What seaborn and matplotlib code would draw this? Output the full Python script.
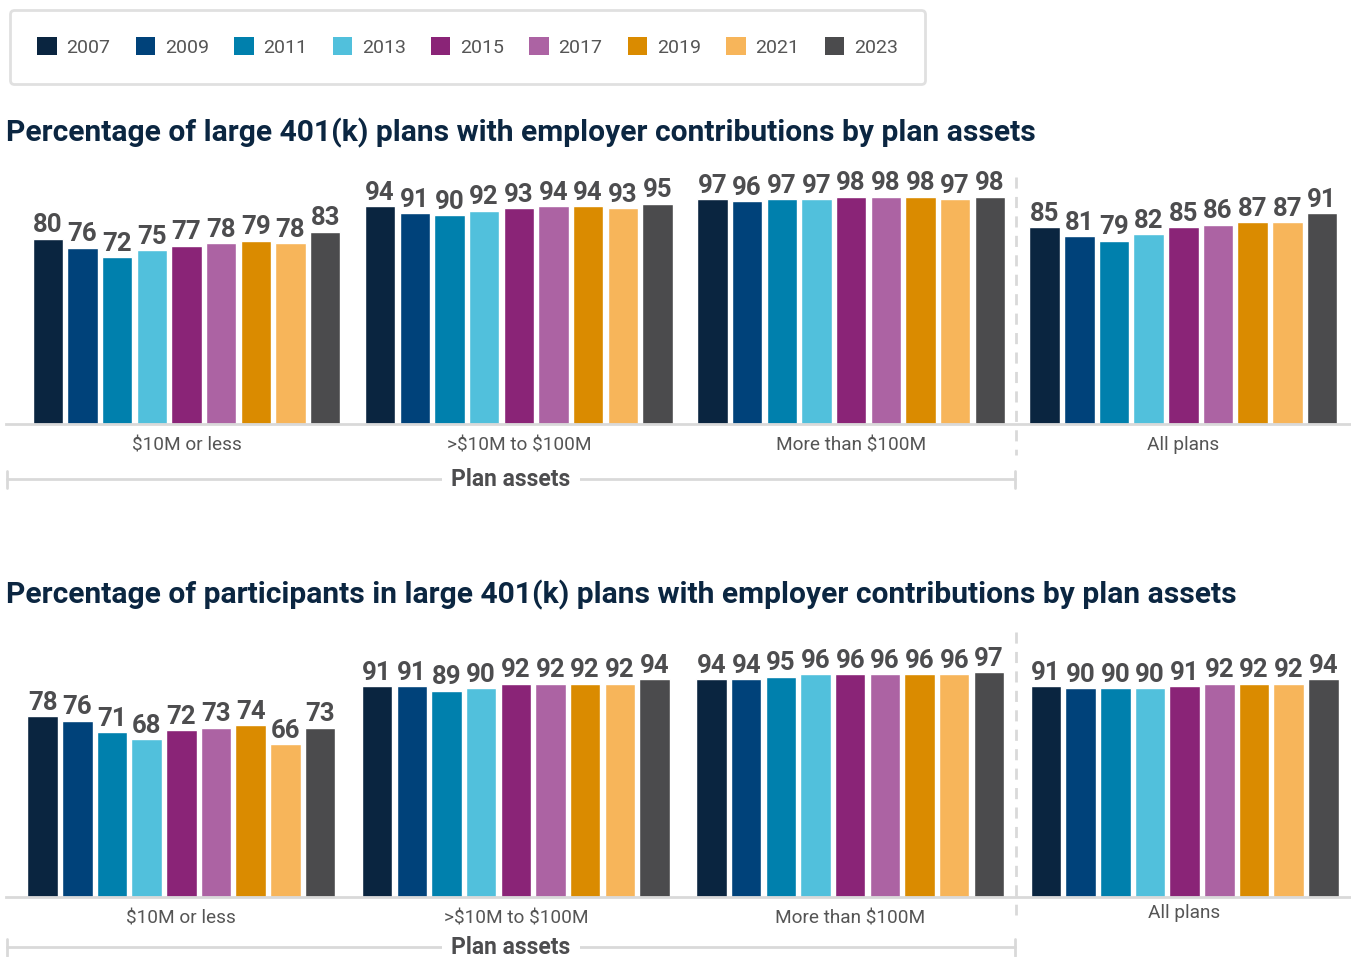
import pandas as pd
import numpy as np
import matplotlib
matplotlib.use('Agg')
import matplotlib.pyplot as plt
import matplotlib.transforms as mtransforms
from matplotlib.patches import Patch
import seaborn as sns

sns.set_style('white')
plt.rcParams['font.family'] = ['Roboto', 'DejaVu Sans']
plt.rcParams['text.parse_math'] = False

# данные
years = ['2007', '2009', '2011', '2013', '2015', '2017', '2019', '2021', '2023']
groups = ['$10M or less', '>$10M to $100M', 'More than $100M', 'All plans']
colors = ['#0a2540', '#00427a', '#0080ad', '#51c0dc', '#8a2477',
          '#ac63a3', '#da8b00', '#f7b55a', '#4b4b4d']

plans_small = [80, 76, 72, 75, 77, 78, 79, 78, 83]
plans_mid = [94, 91, 90, 92, 93, 94, 94, 93, 95]
plans_large = [97, 96, 97, 97, 98, 98, 98, 97, 98]
plans_all = [85, 81, 79, 82, 85, 86, 87, 87, 91]

part_small = [78, 76, 71, 68, 72, 73, 74, 66, 73]
part_mid = [91, 91, 89, 90, 92, 92, 92, 92, 94]
part_large = [94, 94, 95, 96, 96, 96, 96, 96, 97]
part_all = [91, 90, 90, 90, 91, 92, 92, 92, 94]

title_top = 'Percentage of large 401(k) plans with employer contributions by plan assets'
title_bottom = 'Percentage of participants in large 401(k) plans with employer contributions by plan assets'

W, H = 1351, 957
fig = plt.figure(figsize=(W / 100, H / 100), dpi=100)

label_color = '#4d4d4f'
line_color = '#d9d9d9'
navy = '#0b2641'


def to_long(series):
    rows = []
    for g, vals in zip(groups, series):
        for y, v in zip(years, vals):
            rows.append({'group': g, 'year': y, 'value': v})
    return pd.DataFrame(rows)


def panel(series, title, top_px, base_px, title_px, sep_px, bracket_px, c0, step,
          last_shift=0):
    h = base_px - top_px
    ax = fig.add_axes([6 / W, 1 - base_px / H, 1344 / W, h / H])
    df = to_long(series)
    sns.barplot(data=df, x='group', y='value', hue='year', order=groups,
                hue_order=years, palette=colors, width=312 / step, gap=0.12,
                errorbar=None, legend=False, ax=ax, saturation=1)
    ax.set_ylim(0, h / 2.318)
    px = lambda p: (p - c0) / step  # пиксели -> данные по x
    ax.set_xlim(px(6), px(1350))
    for c in ax.containers:
        ax.bar_label(c, fmt='%d', padding=1, fontsize=18.5, fontweight='bold',
                     color=label_color)
    ax.set_xlabel('')
    ax.set_ylabel('')
    ax.set_yticks([])
    ax.tick_params(axis='x', length=0, pad=9, labelsize=13.7, labelcolor='#555555')
    if last_shift:
        lab = ax.get_xticklabels()[-1]
        lab.set_transform(lab.get_transform() +
                          mtransforms.ScaledTranslation(0, last_shift / 100, fig.dpi_scale_trans))
    for s in ['top', 'left', 'right']:
        ax.spines[s].set_visible(False)
    ax.spines['bottom'].set_color(line_color)
    ax.spines['bottom'].set_linewidth(2)

    fy = lambda p: (base_px - p) / h  # пиксели -> доля осей
    tr = ax.get_xaxis_transform()
    ax.plot([px(1016)] * 2, [fy(sep_px[0]), fy(sep_px[1])], transform=tr,
            clip_on=False, color=line_color, lw=2, ls=(0, (4, 3)))
    # скобка "Plan assets"
    x0, x1 = px(7), px(1015)
    ax.plot([x0, x1], [fy(bracket_px), fy(bracket_px)], transform=tr,
            clip_on=False, color=line_color, lw=2)
    for xe in [x0, x1]:
        ax.plot([xe, xe], [fy(bracket_px - 8), fy(bracket_px + 9)], transform=tr,
                clip_on=False, color=line_color, lw=2)
    ax.text((x0 + x1) / 2, fy(bracket_px), 'Plan assets', transform=tr,
            ha='center', va='center', fontsize=16.5, fontweight='bold',
            color=label_color,
            bbox=dict(facecolor='white', edgecolor='none', pad=7))
    fig.text(6 / W, 1 - title_px / H, title,
             ha='left', va='center', fontsize=21.6, fontweight='bold', color=navy)
    return ax


panel([plans_small, plans_mid, plans_large, plans_all], title_top,
      175, 424, 133, (177, 455), 479, 186.5, 332.3)
panel([part_small, part_mid, part_large, part_all], title_bottom,
      640, 897, 595, (632, 915), 947, 181.4, 334.4, last_shift=6)

handles = [Patch(facecolor=c, edgecolor='none', label=y) for c, y in zip(colors, years)]
leg = fig.legend(handles=handles, loc='upper left', bbox_to_anchor=(10 / W, 1 - 10 / H),
                 ncol=9, frameon=True, fancybox=True, fontsize=14,
                 handlelength=1.0, handleheight=1.0, handletextpad=0.5,
                 columnspacing=1.3, borderpad=1.4, borderaxespad=0)
leg.get_frame().set_edgecolor(line_color)
leg.get_frame().set_linewidth(2)
for t in leg.get_texts():
    t.set_color('#555555')

plt.savefig('out.png', dpi=100)
plt.close()
